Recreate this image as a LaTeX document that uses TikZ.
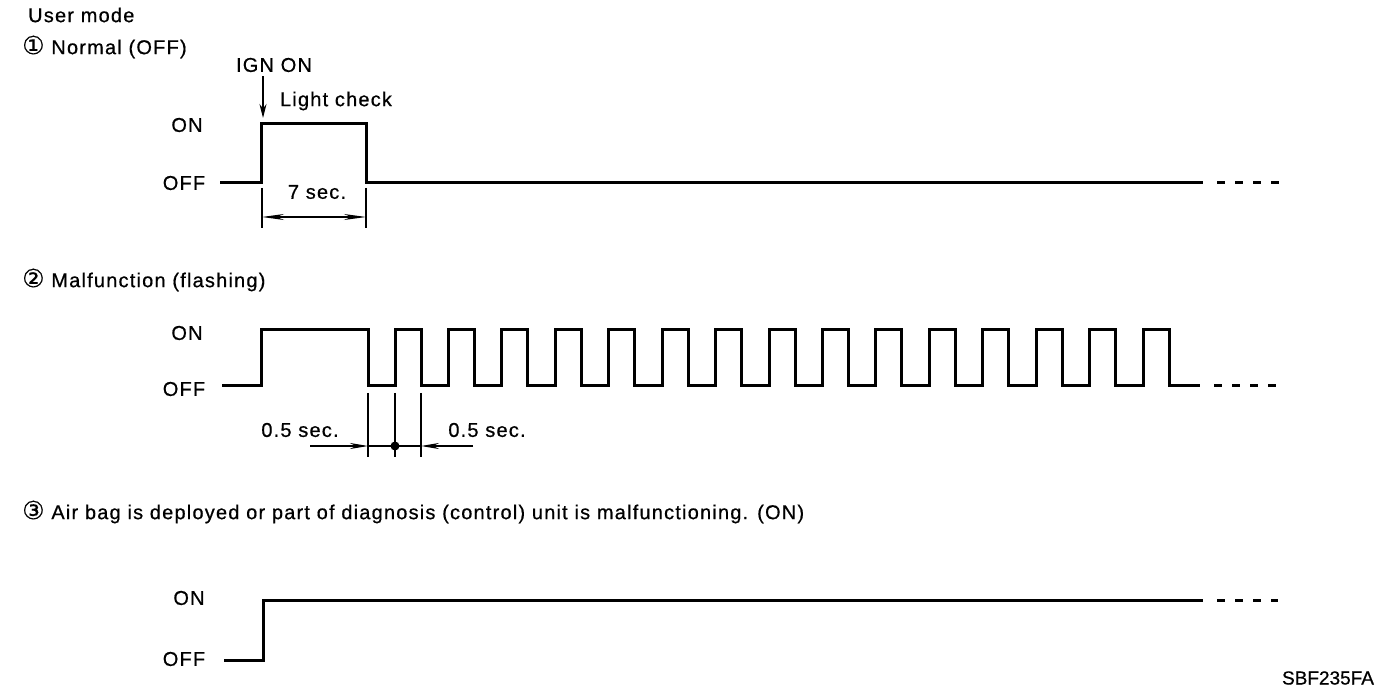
\documentclass[tikz,border=0pt]{standalone}
\usepackage{fontspec}
\setmainfont[LetterSpace=6,FakeBold=0.6]{Liberation Sans}
\newfontfamily\symfont[FakeBold=0.4]{DejaVu Sans}
\newfontfamily\codefont[FakeBold=0.6]{Liberation Sans}
\usetikzlibrary{arrows.meta}
\begin{document}
\begin{tikzpicture}[x=1pt,y=-1pt,
  font=\fontsize{20}{24}\selectfont,
  wave/.style={line width=3pt, line join=miter},
  dashend/.style={line width=3pt, dash pattern=on 8pt off 10pt},
  dim/.style={line width=1.2pt},
  lbl/.style={inner sep=0pt}]
\useasboundingbox (0,0) rectangle (1392,692);

% titles
\node[lbl, anchor=west] (title) at (28,15) {User mode};
\node[lbl, anchor=west] (t1) at (22,47) {{\symfont\fontsize{25}{24}\selectfont ①} Normal (OFF)};
\node[lbl, anchor=west] (t2) at (22,280) {{\symfont\fontsize{25}{24}\selectfont ②} Malfunction (flashing)};
\node[lbl, anchor=west] (t3) at (22,512) {{\symfont\fontsize{25}{24}\selectfont ③} Air bag is deployed or part of diagnosis (control) unit is malfunctioning. (ON)};
\node[lbl] (code) at (1328,678) {\codefont\fontsize{19}{22}\selectfont SBF235FA};

% chart 1
\node[lbl] (on1) at (187,125) {ON};
\node[lbl] (off1) at (184,183) {OFF};
\node[lbl] (ign) at (274,65) {IGN ON};
\node[lbl] (lc) at (336,101) {Light check};
\coordinate (ignend) at (263,118);
\draw[line width=1.3pt, -{Stealth[length=14pt,width=7pt]}] (ign.south -| ignend) ++(0,4) -- (ignend);
\draw[wave] (220,183) -- (261,183) -- (261,124) -- (366,124) -- (366,183) -- (1203,183);
\draw[dashend] (1217,183) -- (1282,183);
\node[lbl] (sec7) at (317,192) {7 sec.};
\draw[dim] (262,188) -- (262,228);
\draw[dim] (366,188) -- (366,228);
\draw[dim, {Stealth[length=22pt,width=6pt]}-{Stealth[length=22pt,width=6pt]}] (262,217) -- (366,217);

% chart 2
\node[lbl] (on2) at (187,333) {ON};
\node[lbl] (off2) at (184,389) {OFF};
\draw[wave] (222,386) -- (261,386) -- (261,330) -- (368,330) -- (368,386)
  \foreach \i in {0,...,14} { -- ({395+53.43*\i},386) -- ({395+53.43*\i},330) -- ({421+53.43*\i},330) -- ({421+53.43*\i},386) }
  -- (1200,386);
\draw[dashend] (1214,386) -- (1278,386);
\draw[dim] (368,393) -- (368,457);
\draw[dim] (395,393) -- (395,457);
\draw[dim] (421,393) -- (421,457);
\coordinate (la) at (368,446);
\coordinate (ra) at (421,446);
\draw[dim, -{Stealth[length=18pt,width=6pt]}] (310,446) -- (la);
\draw[dim, -{Stealth[length=18pt,width=6pt]}] (473,446) -- (ra);
\draw[dim] (la) -- (ra);
\fill (395,446) circle (4.5pt);
\node[lbl] (h1) at (300,430) {0.5 sec.};
\node[lbl] (h2) at (487,430) {0.5 sec.};

% chart 3
\node[lbl] (on3) at (189,598) {ON};
\node[lbl] (off3) at (184,659) {OFF};
\draw[wave] (224,660) -- (263,660) -- (263,600) -- (1203,600);
\draw[dashend] (1217,600) -- (1278,600);
\end{tikzpicture}
\end{document}
